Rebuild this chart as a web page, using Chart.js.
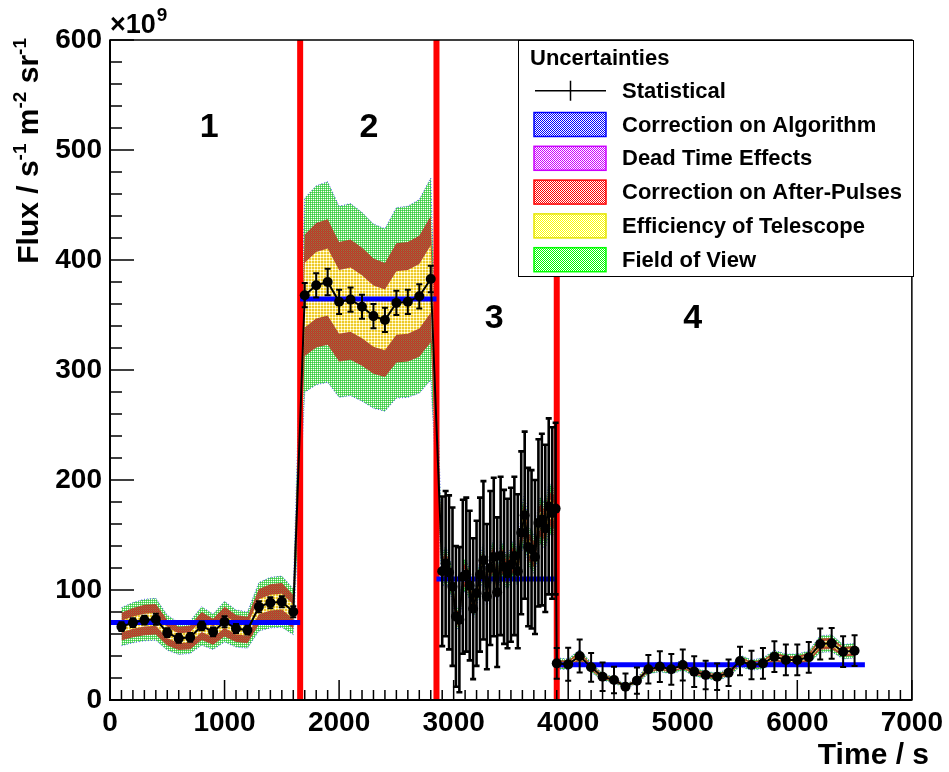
<!DOCTYPE html>
<html>
<head>
<meta charset="utf-8">
<script src="https://cdn.jsdelivr.net/npm/chart.js@4.4.0/dist/chart.umd.min.js"></script>
<style>
  html, body { margin: 0; padding: 0; background: #fff; }
  #wrap { width: 949px; height: 772px; }
</style>
</head>
<body>
<div id="wrap"><canvas id="flux" width="949" height="772"></canvas></div>
<script>
const FONT = "'Liberation Sans', Arial, Helvetica, sans-serif";

// region 1
const time1 = [100, 200, 300, 400, 500, 600, 700, 800, 900, 1000, 1100, 1200, 1300, 1400, 1500, 1600];
const flux1 = [66.7, 70.3, 72.7, 73.4, 61.2, 56, 57, 67.3, 62, 71.2, 65, 63.6, 84.8, 88.5, 89.4, 80.3];
const stat1 = [4, 4, 4, 5, 4, 4, 4, 4, 4, 5, 4, 4, 5, 5, 5, 5];
// region 2
const time2 = [1700, 1800, 1900, 2000, 2100, 2200, 2300, 2400, 2500, 2600, 2700, 2800];
const flux2 = [368, 377, 380, 362, 364, 357.5, 349, 345.5, 361, 362, 367, 382.7];
const stat2 = [11, 11, 12, 11, 11, 11, 11, 11, 11, 11, 11, 12];
// region 3
const time3 = [2900, 2930, 2960, 2990, 3020, 3050, 3080, 3110, 3140, 3170, 3200, 3230, 3260, 3290, 3320, 3350, 3380,
               3410, 3440, 3470, 3500, 3530, 3560, 3590, 3620, 3650, 3680, 3710, 3740, 3770, 3800, 3830, 3860, 3890];
const flux3 = [117, 124, 116, 103, 76, 73, 112, 114, 104, 83, 97, 114, 127, 94, 120, 130, 98,
               131, 121, 115, 123, 131, 117, 152, 168, 139, 137, 130, 161, 164, 156, 176, 170, 174];
const stat3 = [68, 66, 70, 72, 64, 66, 70, 70, 68, 64, 66, 70, 72, 66, 70, 72, 68,
               72, 70, 68, 70, 72, 70, 74, 76, 72, 72, 70, 76, 78, 76, 80, 78, 78];
// region 4
const time4 = [3900, 4000, 4100, 4200, 4300, 4400, 4500, 4600, 4700, 4800, 4900, 5000, 5100, 5200,
               5300, 5400, 5500, 5600, 5700, 5800, 5900, 6000, 6100, 6200, 6300, 6400, 6500];
const flux4 = [33.3, 32.4, 40, 29.7, 21.2, 18.2, 12.1, 17.6, 27.9, 30.3, 27.9, 31.8, 25.8, 22.7,
               21.2, 24.8, 35.5, 31.8, 33.3, 39.4, 36.4, 36.4, 38.8, 50.9, 51.5, 43.9, 44.8];
const stat4 = [14, 15, 15, 13, 13, 12, 12, 12, 13, 14, 14, 14, 14, 13, 12, 12, 13, 13, 14, 14, 14, 14, 14, 14, 14, 14, 14];

// relative systematic half-widths per region
const sysEfficiency = [0.08, 0.08, 0.05, 0.05];
const sysAfterPulse = [0.19, 0.15, 0.09, 0.10];
const sysFieldOfView = [0.26, 0.24, 0.13, 0.15];

// fitted constant flux and region boundaries
const boundaries = [1660, 2850, 3900];
const fitStart = [0, 1660, 2850, 3900];
const fitEnd = [1660, 2850, 3900, 6590];
const fitFlux = [70.5, 364.5, 110, 32];

const regionNames = ['1', '2', '3', '4'];
const regionNameTime = [866, 2261, 3353, 5086];
const regionNameFlux = [520, 520, 347, 347];

const legendTitle = 'Uncertainties';
const legendLabels = ['Statistical', 'Correction on Algorithm', 'Dead Time Effects',
                      'Correction on After-Pulses', 'Efficiency of Telescope', 'Field of View'];
const legendColors = [null, '#0000ff', '#cc00ff', '#ff0000', '#ffff00', '#00ff00'];

const regionTimes = [time1, time2, time3, time4];
const regionFlux = [flux1, flux2, flux3, flux4];
const regionStat = [stat1, stat2, stat3, stat4];

function makePattern(size, cells, base) {
    const c = document.createElement('canvas');
    c.width = size; c.height = size;
    const g = c.getContext('2d');
    if (base) { g.fillStyle = base; g.fillRect(0, 0, size, size); }
    cells.forEach(function (cell) {
        g.fillStyle = cell[2];
        g.fillRect(cell[0], cell[1], 1, 1);
    });
    return g.createPattern(c, 'repeat');
}

const greenFill = makePattern(2, [[0, 0, '#33cc44'], [1, 0, '#6cdc6c'], [0, 1, '#6cdc6c'], [1, 1, '#ffffff']]);
const redFill = makePattern(2, [[0, 0, '#c83220'], [1, 1, '#c83220'], [1, 0, '#8a7a48'], [0, 1, '#a05a3c']]);
const yellowFill = makePattern(3, [[2, 0, '#fff2a0'], [2, 1, '#fff2a0'], [0, 2, '#fff2a0'], [1, 2, '#fff2a0'], [2, 2, '#ffffff']], '#ecc82a');

function checker(color) {
    return makePattern(2, [[0, 0, color], [1, 1, color], [1, 0, '#ffffff'], [0, 1, '#ffffff']]);
}

function band(fracs, sign) {
    const out = [];
    regionTimes.forEach(function (ts, r) {
        ts.forEach(function (t, i) {
            out.push({ x: t, y: regionFlux[r][i] * (1 + sign * fracs[r]) });
        });
    });
    return out;
}

const points = [];
regionTimes.forEach(function (ts, r) {
    ts.forEach(function (t, i) { points.push({ x: t, y: regionFlux[r][i], err: regionStat[r][i], dense: r === 2 }); });
});

const datasets = [
    { label: 'fovHi', data: band(sysFieldOfView, 1), borderColor: 'rgba(30,30,255,0.7)', borderWidth: 1,
      borderDash: [1, 2], pointRadius: 0, fill: false, order: 10 },
    { label: 'fovLo', data: band(sysFieldOfView, -1), borderColor: 'rgba(30,30,255,0.7)', borderWidth: 1,
      borderDash: [1, 2], pointRadius: 0, fill: '-1', backgroundColor: greenFill, order: 10 },
    { label: 'apHi', data: band(sysAfterPulse, 1), borderWidth: 0, pointRadius: 0, fill: false, order: 9 },
    { label: 'apLo', data: band(sysAfterPulse, -1), borderWidth: 0, pointRadius: 0, fill: '-1',
      backgroundColor: redFill, order: 9 },
    { label: 'effHi', data: band(sysEfficiency, 1), borderWidth: 0, pointRadius: 0, fill: false, order: 8 },
    { label: 'effLo', data: band(sysEfficiency, -1), borderWidth: 0, pointRadius: 0, fill: '-1',
      backgroundColor: yellowFill, order: 8 }
];

boundaries.forEach(function (b) {
    datasets.push({ label: 'boundary', data: [{ x: b, y: 0 }, { x: b, y: 600 }],
        borderColor: '#ff0000', borderWidth: 6, pointRadius: 0, fill: false, order: 7 });
});
fitFlux.forEach(function (f, i) {
    datasets.push({ label: 'fit', data: [{ x: fitStart[i], y: f }, { x: fitEnd[i], y: f }],
        borderColor: '#0000ff', borderWidth: 5, pointRadius: 0, fill: false, order: 6 });
});
datasets.push({ label: 'Statistical', data: points, borderColor: '#000', borderWidth: 2,
    pointRadius: 5, pointBackgroundColor: '#000', pointBorderWidth: 0, fill: false, order: 1 });

const rootStyle = {
    id: 'rootStyle',
    beforeDatasetDraw: function (chart, args) {
        if (chart.data.datasets[args.index].label !== 'Statistical') return;
        const ctx = chart.ctx, xs = chart.scales.x, ys = chart.scales.y, area = chart.chartArea;
        ctx.save();
        ctx.beginPath();
        ctx.rect(area.left, area.top, area.right - area.left, area.bottom - area.top);
        ctx.clip();
        ctx.strokeStyle = '#000';
        points.forEach(function (p) {
            const px = xs.getPixelForValue(p.x);
            const lo = ys.getPixelForValue(p.y - p.err);
            const hi = ys.getPixelForValue(p.y + p.err);
            ctx.lineWidth = p.dense ? 2.6 : 2;
            ctx.beginPath();
            ctx.moveTo(px, lo); ctx.lineTo(px, hi);
            ctx.moveTo(px - 3, lo); ctx.lineTo(px + 3, lo);
            ctx.moveTo(px - 3, hi); ctx.lineTo(px + 3, hi);
            ctx.stroke();
        });
        ctx.restore();
    },
    afterDraw: function (chart) {
        const ctx = chart.ctx, xs = chart.scales.x, ys = chart.scales.y, a = chart.chartArea;
        ctx.save();
        // frame
        ctx.strokeStyle = '#000';
        ctx.lineWidth = 1.5;
        ctx.strokeRect(a.left, a.top, a.right - a.left, a.bottom - a.top);
        ctx.lineWidth = 2;
        ctx.beginPath();
        ctx.moveTo(a.left, a.top); ctx.lineTo(a.left, a.bottom); ctx.lineTo(a.right, a.bottom);
        ctx.stroke();
        // inward ticks
        ctx.lineWidth = 1.5;
        ctx.beginPath();
        for (let t = 0; t <= 7000; t += 100) {
            const px = xs.getPixelForValue(t);
            const len = t % 1000 === 0 ? 20 : 10;
            ctx.moveTo(px, a.bottom); ctx.lineTo(px, a.bottom - len);
        }
        for (let v = 0; v <= 600; v += 20) {
            const py = ys.getPixelForValue(v);
            const len = v % 100 === 0 ? 24 : 12;
            ctx.moveTo(a.left, py); ctx.lineTo(a.left + len, py);
        }
        ctx.stroke();

        // region numbers
        ctx.fillStyle = '#000';
        ctx.font = 'bold 34px ' + FONT;
        ctx.textAlign = 'center';
        ctx.textBaseline = 'middle';
        regionNames.forEach(function (n, i) {
            ctx.fillText(n, xs.getPixelForValue(regionNameTime[i]), ys.getPixelForValue(regionNameFlux[i]));
        });

        // x title
        ctx.textAlign = 'right';
        ctx.textBaseline = 'alphabetic';
        ctx.font = 'bold 30px ' + FONT;
        ctx.fillText('Time / s', 929, 764);

        // exponent
        ctx.textAlign = 'left';
        ctx.font = 'bold 27px ' + FONT;
        ctx.fillText('\u00d710', 110, 33);
        const ew = ctx.measureText('\u00d710').width;
        ctx.font = 'bold 19px ' + FONT;
        ctx.fillText('9', 110 + ew + 1, 21);

        // y title
        ctx.translate(38, 38);
        ctx.rotate(-Math.PI / 2);
        const parts = [['Flux / s', false], ['-1', true], [' m', false], ['-2', true], [' sr', false], ['-1', true]];
        let total = 0;
        parts.forEach(function (p) {
            ctx.font = (p[1] ? 'bold 19px ' : 'bold 30px ') + FONT;
            total += ctx.measureText(p[0]).width;
        });
        let x = -total;
        parts.forEach(function (p) {
            ctx.font = (p[1] ? 'bold 19px ' : 'bold 30px ') + FONT;
            ctx.fillText(p[0], x, p[1] ? -12 : 0);
            x += ctx.measureText(p[0]).width;
        });
        ctx.restore();

        // legend
        ctx.save();
        const L = 518, T = 40, R = 913, B = 276;
        ctx.fillStyle = '#fff';
        ctx.fillRect(L, T, R - L, B - T);
        ctx.strokeStyle = '#000';
        ctx.lineWidth = 1;
        ctx.strokeRect(L + 0.5, T + 0.5, R - L, B - T);
        ctx.fillStyle = '#000';
        ctx.font = 'bold 22px ' + FONT;
        ctx.textAlign = 'left';
        ctx.textBaseline = 'middle';
        ctx.fillText(legendTitle, 530, 59);
        legendLabels.forEach(function (lab, i) {
            const cy = 90.7 + i * 33.8;
            if (legendColors[i] === null) {
                ctx.strokeStyle = '#000';
                ctx.lineWidth = 1.5;
                ctx.beginPath();
                ctx.moveTo(535, cy); ctx.lineTo(606, cy);
                ctx.moveTo(570.5, cy - 10); ctx.lineTo(570.5, cy + 10);
                ctx.stroke();
            } else {
                ctx.fillStyle = checker(legendColors[i]);
                ctx.fillRect(534, cy - 12, 72, 24);
                ctx.strokeStyle = legendColors[i] === '#ffff00' ? '#e6e600' : legendColors[i];
                ctx.lineWidth = 1.5;
                ctx.strokeRect(534, cy - 12, 72, 24);
            }
            ctx.fillStyle = '#000';
            ctx.fillText(lab, 622, cy + 1);
        });
        ctx.restore();
    }
};

new Chart(document.getElementById('flux').getContext('2d'), {
    type: 'line',
    data: { datasets: datasets },
    options: {
        responsive: false,
        animation: false,
        layout: { padding: { top: 40, right: 31, left: 0, bottom: 0 } },
        plugins: { legend: { display: false }, tooltip: { enabled: false } },
        elements: { line: { tension: 0 } },
        scales: {
            x: {
                type: 'linear', min: 0, max: 7000,
                ticks: { stepSize: 1000, color: '#000', padding: 6, maxRotation: 0, autoSkip: false,
                         callback: function (v) { return String(v); },
                         font: { family: FONT, size: 28, weight: 'bold' } },
                grid: { drawOnChartArea: false, drawTicks: false },
                border: { display: false },
                afterFit: function (s) { s.height = 72; }
            },
            y: {
                type: 'linear', min: 0, max: 600,
                ticks: { stepSize: 100, color: '#000', padding: 8,
                         callback: function (v) { return String(v); },
                         font: { family: FONT, size: 28, weight: 'bold' } },
                grid: { drawOnChartArea: false, drawTicks: false },
                border: { display: false },
                afterFit: function (s) { s.width = 110; }
            }
        }
    },
    plugins: [rootStyle]
});
</script>
</body>
</html>
